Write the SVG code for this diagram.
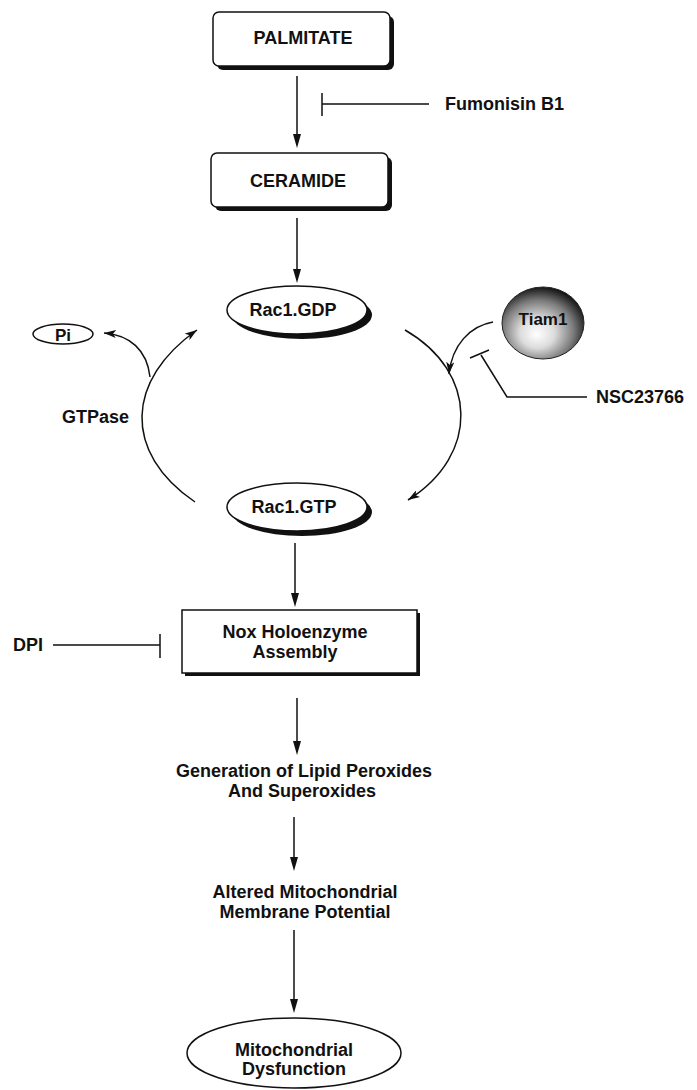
<svg xmlns="http://www.w3.org/2000/svg" width="697" height="1090" viewBox="0 0 697 1090">
<style>
text{font-family:"Liberation Sans",Arial,sans-serif;font-weight:bold;font-size:18px;fill:#111}
.c{text-anchor:middle}
.ln{fill:none;stroke:#111;stroke-width:1.5}
.carr{marker-end:url(#ah2)}
.box{fill:#fff;stroke:#111;stroke-width:1.5}
.sh{fill:#111}
</style>
<defs>
<marker id="ah2" markerUnits="userSpaceOnUse" markerWidth="12" markerHeight="8" viewBox="0 0 12 8" refX="12" refY="4" orient="auto">
<path d="M0,0 L12,4 L0,8 L3,4 z" fill="#111"/>
</marker>
<path id="vhead" d="M-4,-14 L4,-14 L0,0 z" fill="#111"/>
<radialGradient id="sphere" cx="0.45" cy="0.6" r="0.6" fx="0.42" fy="0.66">
<stop offset="0" stop-color="#ffffff"/>
<stop offset="0.35" stop-color="#dcdcdc"/>
<stop offset="0.72" stop-color="#7a7a7a"/>
<stop offset="1" stop-color="#151515"/>
</radialGradient>
</defs>

<g id="connectors">
<line class="ln" x1="297" y1="76" x2="297" y2="140"/>
<path class="ln" d="M322,93 L322,116 M322,104 L429,104"/>
<line class="ln" x1="297" y1="218" x2="297" y2="275"/>
<path class="ln carr" d="M195,502 C122,452 126,380 197,330"/>
<path class="ln carr" d="M150,377 C147,350 130,335 104,333"/>
<path class="ln carr" d="M405,330 C478,372 480,455 408,500"/>
<path class="ln carr" d="M493,322 C470,326 452,345 449,374"/>
<path class="ln" d="M470,358 L489,350 M481,355 L507,397 L587,397"/>
<line class="ln" x1="295" y1="543" x2="295" y2="600"/>
<path class="ln" d="M53,645 L160,645 M160,634 L160,658"/>
<line class="ln" x1="297" y1="698" x2="297" y2="748"/>
<line class="ln" x1="294" y1="817" x2="294" y2="864"/>
<line class="ln" x1="294" y1="930" x2="294" y2="1006"/>
<use href="#vhead" x="297" y="148"/>
<use href="#vhead" x="297" y="283"/>
<use href="#vhead" x="295" y="607"/>
<use href="#vhead" x="297" y="755"/>
<use href="#vhead" x="294" y="871"/>
<use href="#vhead" x="294" y="1013"/>
</g>

<g id="palmitate">
<rect class="sh" x="217" y="16" width="177" height="54" rx="6"/>
<rect class="box" x="213" y="12" width="177" height="54" rx="6"/>
<text class="c" x="303" y="44">PALMITATE</text>
</g>

<g id="fumonisin">
<text x="445" y="110">Fumonisin B1</text>
</g>

<g id="ceramide">
<rect class="sh" x="215" y="157" width="177" height="54" rx="6"/>
<rect class="box" x="211" y="153" width="177" height="54" rx="6"/>
<text class="c" x="298" y="187">CERAMIDE</text>
</g>

<g id="rac1gdp">
<ellipse class="sh" cx="302" cy="315" rx="70" ry="24"/>
<ellipse class="box" cx="297" cy="310" rx="70" ry="24"/>
<text class="c" x="293" y="316">Rac1.GDP</text>
</g>

<g id="pi">
<ellipse class="box" cx="63" cy="334" rx="30" ry="10" stroke-width="1.3"/>
<text class="c" x="63" y="341" style="font-size:17px">Pi</text>
</g>

<g id="gtpase">
<text x="62" y="423">GTPase</text>
</g>

<g id="tiam1">
<ellipse cx="543" cy="323" rx="41" ry="36" fill="url(#sphere)" stroke="#222" stroke-width="1"/>
<text class="c" x="543" y="325" style="font-size:17px">Tiam1</text>
</g>

<g id="nsc23766">
<text x="596" y="403">NSC23766</text>
</g>

<g id="rac1gtp">
<ellipse class="sh" cx="302" cy="512" rx="70" ry="24"/>
<ellipse class="box" cx="297" cy="507" rx="70" ry="24"/>
<text class="c" x="294" y="513">Rac1.GTP</text>
</g>

<g id="nox">
<rect class="sh" x="185" y="613" width="235" height="63"/>
<rect class="box" x="182" y="610" width="235" height="63"/>
<text class="c" x="295" y="638">Nox Holoenzyme</text>
<text class="c" x="295" y="658">Assembly</text>
</g>

<g id="dpi">
<text x="13" y="651">DPI</text>
</g>

<g id="lipid">
<text class="c" x="304" y="777">Generation of Lipid Peroxides</text>
<text class="c" x="302" y="797">And Superoxides</text>
</g>

<g id="membrane">
<text class="c" x="305" y="898">Altered Mitochondrial</text>
<text class="c" x="305" y="918">Membrane Potential</text>
</g>

<g id="dysfunction">
<ellipse class="box" cx="294" cy="1053" rx="107" ry="35"/>
<text class="c" x="294" y="1056">Mitochondrial</text>
<text class="c" x="294" y="1075">Dysfunction</text>
</g>
</svg>
